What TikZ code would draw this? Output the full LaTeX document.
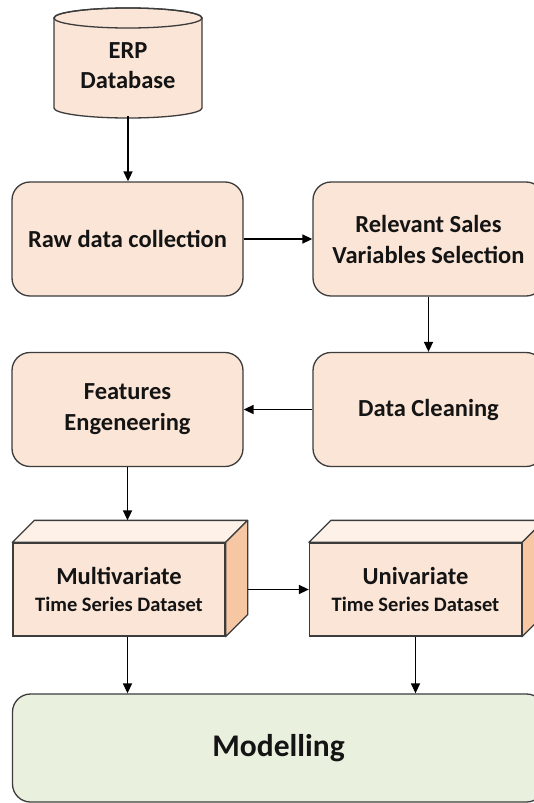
\documentclass[tikz,border=0pt]{standalone}
\usepackage{fontspec}
\setmainfont{Carlito}
\usetikzlibrary{calc,arrows.meta}

\definecolor{peach}{HTML}{FBE5D6}
\definecolor{peachtop}{HTML}{FDF1E8}
\definecolor{peachside}{HTML}{F6C7A2}
\definecolor{sage}{HTML}{EAF0DE}
\definecolor{edge}{HTML}{3C3C3C}
\definecolor{ink}{HTML}{141414}

\tikzset{
  stepbox/.style={draw=edge, line width=1.3pt, fill=peach, rounded corners=18pt,
    minimum width=231pt, minimum height=114pt, inner sep=0pt, align=center,
    text=ink, font=\bfseries\fontsize{24.5}{31}\selectfont},
  cubefront/.style={draw=edge, line width=1.3pt, fill=peach,
    minimum width=212pt, minimum height=93pt, inner sep=0pt, align=center,
    text=ink, font=\bfseries\fontsize{24.5}{29}\selectfont},
  topface/.style={draw=edge, line width=1.3pt, fill=peachtop, line join=round},
  sideface/.style={draw=edge, line width=1.3pt, fill=peachside, line join=round},
  finalbox/.style={draw=edge, line width=1.3pt, fill=sage, rounded corners=18pt,
    minimum width=532pt, minimum height=108pt, inner sep=0pt,
    text=ink, font=\bfseries\fontsize{31.5}{36}\selectfont},
  flow/.style={draw=black, line width=1.6pt, -{Triangle[length=10pt,width=9pt]}},
}

% top and right faces of a box drawn as a cuboid
\newcommand{\cubefaces}[1]{%
  \filldraw[topface] (#1.north west) -- ++(22,22) -- ($(#1.north east)+(22,22)$)
    -- (#1.north east) -- cycle;
  \filldraw[sideface] (#1.north east) -- ++(22,22) -- ($(#1.south east)+(22,22)$)
    -- (#1.south east) -- cycle;}

\begin{document}
\begin{tikzpicture}[x=1pt, y=1pt]
\useasboundingbox (0,0) rectangle (534,-803);
\fill[white] (0,0) rectangle (534,-803);
\clip (0,0) rectangle (534,-803);

% database cylinder
\filldraw[draw=edge, line width=1.3pt, fill=peach]
  (54,-18) -- (54,-108) arc[start angle=180, end angle=360, x radius=74, y radius=10]
  -- (202,-18) arc[start angle=0, end angle=180, x radius=74, y radius=10] -- cycle;
\draw[draw=edge, line width=1.3pt] (128,-18) ellipse[x radius=74, y radius=10];
\node[minimum width=148pt, minimum height=100pt, inner sep=0pt, align=center,
  text=ink, font=\bfseries\fontsize{24.5}{30}\selectfont] (db) at (128,-66) {ERP\\Database};

% processing steps
\node[stepbox] (raw)   at (127.5,-239)   {Raw data collection};
\node[stepbox] (rel)   at (428.5,-239)   {Relevant Sales\\Variables Selection};
\node[stepbox] (clean) at (428.5,-409.5) {Data Cleaning};
\node[stepbox] (feat)  at (127.5,-409.5) {Features\\Engeneering};

% datasets
\node[cubefront] (multi) at (119,-589.5)
  {Multivariate\\[-2pt]{\fontsize{20.5}{24}\selectfont Time Series Dataset}};
\node[cubefront] (uni) at (415.5,-589.5)
  {Univariate\\[-2pt]{\fontsize{20.5}{24}\selectfont Time Series Dataset}};
\cubefaces{multi}
\cubefaces{uni}
\coordinate (mtop) at ($(multi.north)+(0,22)$);

% final stage
\node[finalbox] (model) at (278.5,-748) {\raisebox{-4pt}{Modelling}};

% connectors
\draw[flow] (db.south) -- (raw.north -| db.south);
\draw[flow] (raw.east) -- (rel.west);
\draw[flow] (rel.south) -- (clean.north);
\draw[flow] (clean.west) -- (feat.east);
\draw[flow] (feat.south) -- (feat.south |- mtop);
\draw[flow] ([xshift=22pt]multi.east) -- (uni.west);
\draw[flow] (feat.south |- multi.south) -- (feat.south |- model.north);
\draw[flow] (uni.south) -- (uni.south |- model.north);
\end{tikzpicture}
\end{document}
